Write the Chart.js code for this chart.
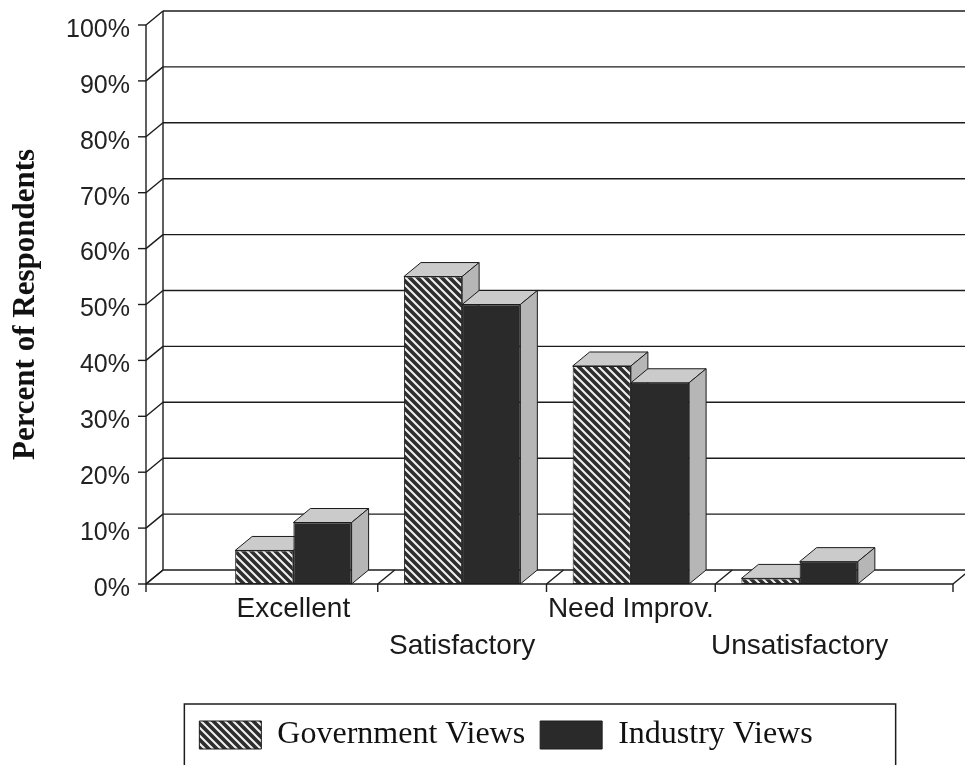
<!DOCTYPE html>
<html>
<head>
<meta charset="utf-8">
<title>Percent of Respondents</title>
<script src="https://cdn.jsdelivr.net/npm/chart.js@4.4.1/dist/chart.umd.min.js"></script>
<style>
  html, body { margin: 0; padding: 0; background: #fff; }
  canvas { display: block; }
</style>
</head>
<body>
<canvas id="chart" width="965" height="765"></canvas>
<script>
// ---- data ----
const categories = ['Excellent', 'Satisfactory', 'Need Improv.', 'Unsatisfactory'];
const governmentViews = [6, 55, 39, 1];
const industryViews = [11, 50, 36, 4];
const seriesNames = ['Government Views', 'Industry Views'];
const percentTicks = [0, 10, 20, 30, 40, 50, 60, 70, 80, 90, 100];

// ---- 3D look ----
const DX = 17, DY = -14;          // depth offset of the back plane
const FLOOR_LEFT = 63;            // floor / front axis start, left of the first band
const FLOOR_RIGHT = 69;           // floor end, right of the last band
const EDGE = '#1c1c1c';
const TOP_FILL = '#cbcbcb';
const SIDE_FILL = '#b6b6b6';

const canvas = document.getElementById('chart');
const ctx2d = canvas.getContext('2d');

function hatchPattern() {
  const c = document.createElement('canvas');
  c.width = 8; c.height = 8;
  const g = c.getContext('2d');
  g.fillStyle = '#2e2e2e';
  g.fillRect(0, 0, 8, 8);
  g.strokeStyle = '#f2f2f2';
  g.lineWidth = 2;
  g.beginPath();
  g.moveTo(-2, -2); g.lineTo(10, 10);
  g.moveTo(-2, 6);  g.lineTo(2, 10);
  g.moveTo(6, -2);  g.lineTo(10, 2);
  g.stroke();
  return ctx2d.createPattern(c, 'repeat');
}

function seg(ctx, x1, y1, x2, y2) {
  ctx.beginPath();
  ctx.moveTo(x1, y1);
  ctx.lineTo(x2, y2);
  ctx.stroke();
}

function face(ctx, pts, fill) {
  ctx.beginPath();
  ctx.moveTo(pts[0][0], pts[0][1]);
  for (let i = 1; i < pts.length; i++) ctx.lineTo(pts[i][0], pts[i][1]);
  ctx.closePath();
  ctx.fillStyle = fill;
  ctx.fill();
  ctx.stroke();
}

const threeD = {
  id: 'threeD',
  afterLayout(chart) {
    // sit the legend a little right of the page centre, under the bars
    const lg = chart.legend;
    const target = chart.chartArea.left + 297;
    const shift = target - (lg.left + lg.right) / 2;
    lg.left += shift;
    lg.right += shift;
  },
  beforeDatasetsDraw(chart) {
    const { ctx, chartArea: a, scales: { x, y } } = chart;
    const left = a.left - FLOOR_LEFT;
    const right = a.right + FLOOR_RIGHT;
    const y0 = y.getPixelForValue(0);
    const yTop = y.getPixelForValue(100);

    ctx.save();
    ctx.strokeStyle = EDGE;
    ctx.lineWidth = 1.4;

    // back wall gridlines, side wall diagonals and front ticks
    y.ticks.forEach(t => {
      const py = y.getPixelForValue(t.value);
      seg(ctx, left + DX, py + DY, chart.width, py + DY);
      seg(ctx, left, py, left + DX, py + DY);
      seg(ctx, left - 8, py, left, py);
    });
    seg(ctx, left, yTop, left, y0);
    seg(ctx, left + DX, yTop + DY, left + DX, y0 + DY);

    // floor
    seg(ctx, left, y0, right, y0);
    const bounds = [left];
    for (let i = 0; i < categories.length - 1; i++) {
      bounds.push((x.getPixelForValue(i) + x.getPixelForValue(i + 1)) / 2);
    }
    bounds.push(right);
    bounds.forEach(bx => {
      seg(ctx, bx, y0, bx + DX, y0 + DY);
      seg(ctx, bx, y0, bx, y0 + 8);
    });

    // top and side faces of every bar
    ctx.lineWidth = 1;
    chart.data.datasets.forEach((ds, di) => {
      chart.getDatasetMeta(di).data.forEach(bar => {
        const { x: bx, y: by, base, width } = bar.getProps(['x', 'y', 'base', 'width'], true);
        const l = bx - width / 2, r = bx + width / 2;
        face(ctx, [[l, by], [r, by], [r + DX, by + DY], [l + DX, by + DY]], TOP_FILL);
        face(ctx, [[r, by], [r + DX, by + DY], [r + DX, base + DY], [r, base]], SIDE_FILL);
      });
    });
    ctx.restore();
  },
  afterDraw(chart) {
    // frame round the legend
    const lg = chart.legend;
    const hb = lg.legendHitBoxes;
    if (!hb || !hb.length) return;
    const first = hb[0].left;
    const last = hb[hb.length - 1].left + hb[hb.length - 1].width;
    const ctx = chart.ctx;
    ctx.save();
    ctx.strokeStyle = EDGE;
    ctx.lineWidth = 1.5;
    ctx.strokeRect(first - 15, lg.top, (last + 83) - (first - 15), chart.height - lg.top + 10);
    ctx.restore();
  }
};

const sansFont = "'Liberation Sans', Arial, Helvetica, sans-serif";
const serifFont = "'Liberation Serif', 'Times New Roman', serif";

new Chart(canvas, {
  type: 'bar',
  data: {
    labels: categories,
    datasets: [
      {
        label: seriesNames[0],
        data: governmentViews,
        backgroundColor: hatchPattern(),
        borderColor: EDGE,
        borderWidth: 1,
        borderSkipped: false
      },
      {
        label: seriesNames[1],
        data: industryViews,
        backgroundColor: '#2a2a2a',
        borderColor: EDGE,
        borderWidth: 1,
        borderSkipped: false
      }
    ]
  },
  options: {
    responsive: false,
    animation: false,
    layout: { padding: { left: 4, top: 25, right: 81, bottom: 4 } },
    datasets: { bar: { categoryPercentage: 0.69, barPercentage: 1 } },
    scales: {
      x: {
        grid: { display: false, drawTicks: false },
        border: { display: false },
        ticks: {
          autoSkip: false,
          maxRotation: 0,
          minRotation: 0,
          padding: 6,
          color: '#1a1a1a',
          font: { family: sansFont, size: 28, lineHeight: 1.35 },
          callback: (v, i) => (i % 2 ? ['', categories[i]] : categories[i])
        },
        afterFit: s => { s.height = 120; }
      },
      y: {
        min: 0,
        max: 100,
        grid: { display: false, drawTicks: false },
        border: { display: false },
        afterBuildTicks: s => { s.ticks = percentTicks.map(v => ({ value: v })); },
        ticks: {
          padding: 79,
          labelOffset: 5,
          color: '#222',
          font: { family: sansFont, size: 25 },
          callback: v => v + '%'
        },
        title: {
          display: true,
          text: 'Percent of Respondents',
          color: '#111',
          font: { family: serifFont, size: 31, weight: 'bold' },
          padding: { top: 3, bottom: 0 }
        },
        afterFit: s => {
          s.width = 205;
          s.paddingTop = 0;
          s.paddingBottom = 0;
        }
      }
    },
    plugins: {
      legend: {
        position: 'bottom',
        labels: {
          boxWidth: 62,
          boxHeight: 28,
          padding: 15,
          color: '#111',
          font: { family: serifFont, size: 32 }
        }
      },
      tooltip: { enabled: false }
    }
  },
  plugins: [threeD]
});
</script>
</body>
</html>
